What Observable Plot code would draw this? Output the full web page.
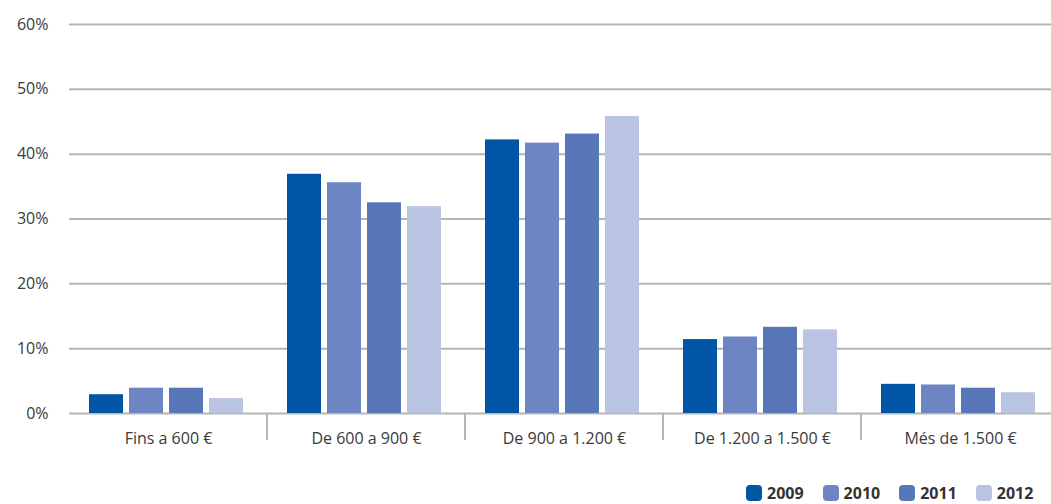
<!DOCTYPE html>
<html><head><meta charset="utf-8">
<script src="https://cdn.jsdelivr.net/npm/d3@7"></script>
<script src="https://cdn.jsdelivr.net/npm/@observablehq/plot@0.6"></script>
<style>
html,body{margin:0;padding:0;background:#fff;overflow:hidden;width:1051px;height:504px}
#chart{position:relative;width:1051px;height:504px;overflow:hidden;font-family:"Open Sans",sans-serif}
#chart svg{display:block;max-width:none !important}
#legend{position:absolute;left:746px;top:484px;display:flex;align-items:center;gap:19px;font-family:"Open Sans",sans-serif;font-weight:bold;font-size:16px;line-height:18px;color:#333}
#legend .item{display:flex;align-items:center;gap:5px}
#legend .sw{width:16px;height:16px;border-radius:4px;display:inline-block}
</style></head><body><div id="chart"></div>
<script>
const categories = ["Fins a 600 €","De 600 a 900 €","De 900 a 1.200 €","De 1.200 a 1.500 €","Més de 1.500 €"];
const years = ["2009","2010","2011","2012"];
const v2009 = [2.9, 36.9, 42.2, 11.4, 4.5];
const v2010 = [3.9, 35.6, 41.7, 11.8, 4.4];
const v2011 = [3.9, 32.5, 43.1, 13.3, 3.9];
const v2012 = [2.3, 31.9, 45.8, 12.9, 3.2];
const yTicks = [0, 10, 20, 30, 40, 50, 60];
const colors = ["#0055a4", "#6d85c2", "#5877b8", "#b9c3e2"];

const series = [v2009, v2010, v2011, v2012];
const data = categories.flatMap((c, i) => years.map((yr, j) => ({category: c, year: yr, value: series[j][i]})));

const gridColor = "#b5b5b5";
const chart = Plot.plot({
  width: 1060,
  height: 470,
  marginLeft: 68,
  marginRight: 1,
  marginTop: 24,
  marginBottom: 57,
  style: {fontFamily: "'Open Sans', sans-serif", fontSize: "16px", color: "#3a3a3a", background: "#fff", maxWidth: "none"},
  fx: {domain: categories, padding: 0, label: null},
  x: {domain: years, paddingInner: 0.14, paddingOuter: 0.5, align: 0.45, axis: null},
  y: {domain: [0, 60], label: null},
  color: {domain: years, range: colors},
  marks: [
    Plot.ruleY(yTicks, {stroke: gridColor, strokeWidth: 2}),
    Plot.barY(data, {fx: "category", x: "year", y: "value", fill: "year"}),
    Plot.axisY({ticks: yTicks, tickFormat: d => d + "%", tickSize: 0, tickPadding: 21, label: null, fontSize: 16, style: {letterSpacing: "0.8px"}}),
    Plot.axisFx({anchor: "bottom", tickSize: 0, tickPadding: 19, label: null, fontSize: 16})
  ]
});
document.getElementById("chart").appendChild(chart);

// group separators below the baseline, positioned via the fx and y scales
const fx = chart.scale("fx"), ys = chart.scale("y");
const svg = d3.select(chart);
categories.slice(1).forEach(c => {
  const x = fx.apply(c);
  svg.append("line")
    .attr("x1", x).attr("x2", x)
    .attr("y1", ys.apply(0)).attr("y2", ys.apply(0) + 27)
    .attr("stroke", gridColor).attr("stroke-width", 2);
});

const legend = d3.select("#chart").append("div").attr("id", "legend");
years.forEach((yr, i) => {
  const it = legend.append("div").attr("class", "item");
  it.append("span").attr("class", "sw").style("background", colors[i]);
  it.append("span").text(yr);
});
</script>
</body></html>
